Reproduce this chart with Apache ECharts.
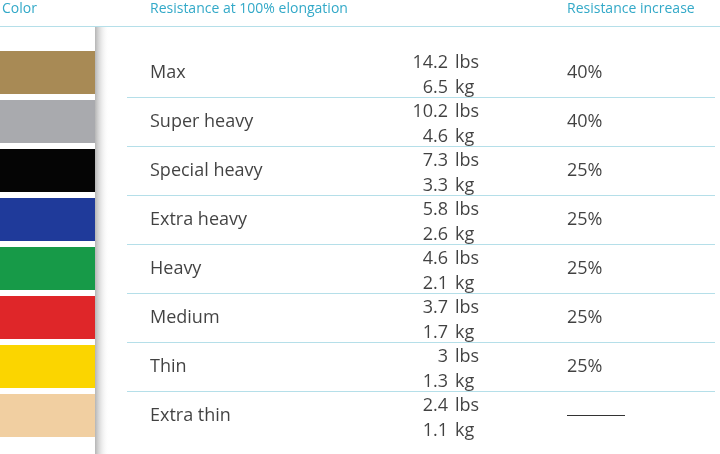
<!DOCTYPE html>
<html><head><meta charset="utf-8">
<script src="https://cdn.jsdelivr.net/npm/echarts@6/dist/echarts.min.js"></script>
<style>html,body{margin:0;background:#fff}#c{width:720px;height:454px}</style>
</head><body><div id="c"></div>
<script>
var names = ['Max', 'Super heavy', 'Special heavy', 'Extra heavy', 'Heavy', 'Medium', 'Thin', 'Extra thin'];
var swatch = ['#a88a55', '#a9aaae', '#050505', '#1f3a9a', '#179a48', '#df2629', '#fbd500', '#f1cfa1'];
var lbs = ['14.2', '10.2', '7.3', '5.8', '4.6', '3.7', '3', '2.4'];
var kg = ['6.5', '4.6', '3.3', '2.6', '2.1', '1.7', '1.3', '1.1'];
var increase = ['40%', '40%', '25%', '25%', '25%', '25%', '25%', ''];

var font = '"Open Sans", sans-serif';
var ink = '#111';
var myChart = echarts.init(document.getElementById('c'));

// one text column per scatter series, x is pixel-ish on a 0..720 value axis
function textCol(x, texts, align, dy) {
	return {
		type: 'scatter', symbolSize: 0, silent: true,
		data: texts.map(function (t, i) { return [x, names[i], t]; }),
		label: {
			show: true, position: 'inside', align: align, offset: [0, dy],
			formatter: function (p) { return p.data[2]; },
			color: ink, fontFamily: font, fontSize: 18
		}
	};
}

var series = [
	{ // colour swatches
		type: 'bar', barWidth: 43, silent: true,
		data: names.map(function (n, i) { return { value: 95, itemStyle: { color: swatch[i] } }; })
	},
	{ // row separators
		type: 'custom', silent: true,
		data: names.slice(0, names.length - 1).map(function (n) { return [0, n]; }),
		renderItem: function (params, api) {
			var c = api.coord([0, api.value(1)]);
			var y = Math.round(c[1] + api.size([0, 1])[1] / 2) + 0.5;
			return { type: 'line', shape: { x1: 127, y1: y, x2: 715, y2: y }, style: { stroke: '#b5dfe9', lineWidth: 1 } };
		}
	},
	textCol(150, names, 'left', 0),
	textCol(448, lbs, 'right', -10),
	textCol(455, lbs.map(function () { return 'lbs'; }), 'left', -10),
	textCol(448, kg, 'right', 15),
	textCol(455, kg.map(function () { return 'kg'; }), 'left', 15),
	textCol(567, increase, 'left', 0)
];

myChart.setOption({
	animation: false,
	grid: { left: 0, right: 0, top: 48, bottom: 14 },
	xAxis: { type: 'value', min: 0, max: 720, show: false },
	yAxis: { type: 'category', data: names, inverse: true, show: false },
	series: series,
	graphic: [
		{ type: 'rect', shape: { x: 95, y: 27, width: 14, height: 427 }, silent: true,
		  style: { fill: new echarts.graphic.LinearGradient(0, 0, 1, 0, [
			{ offset: 0, color: 'rgba(120,120,120,0.55)' }, { offset: 1, color: 'rgba(255,255,255,0)' }]) } },
		{ type: 'line', shape: { x1: 0, y1: 26.5, x2: 720, y2: 26.5 }, style: { stroke: '#b5dfe9', lineWidth: 1 } },
		{ type: 'line', shape: { x1: 567, y1: 415.5, x2: 625, y2: 415.5 }, style: { stroke: '#333', lineWidth: 1 } },
		{ type: 'text', left: 2, top: 2, style: { text: 'Color', fill: '#33a9c8', font: '14px ' + font } },
		{ type: 'text', left: 150, top: 2, style: { text: 'Resistance at 100% elongation', fill: '#33a9c8', font: '14px ' + font } },
		{ type: 'text', left: 567, top: 2, style: { text: 'Resistance increase', fill: '#33a9c8', font: '14px ' + font } }
	]
});
</script></body></html>
